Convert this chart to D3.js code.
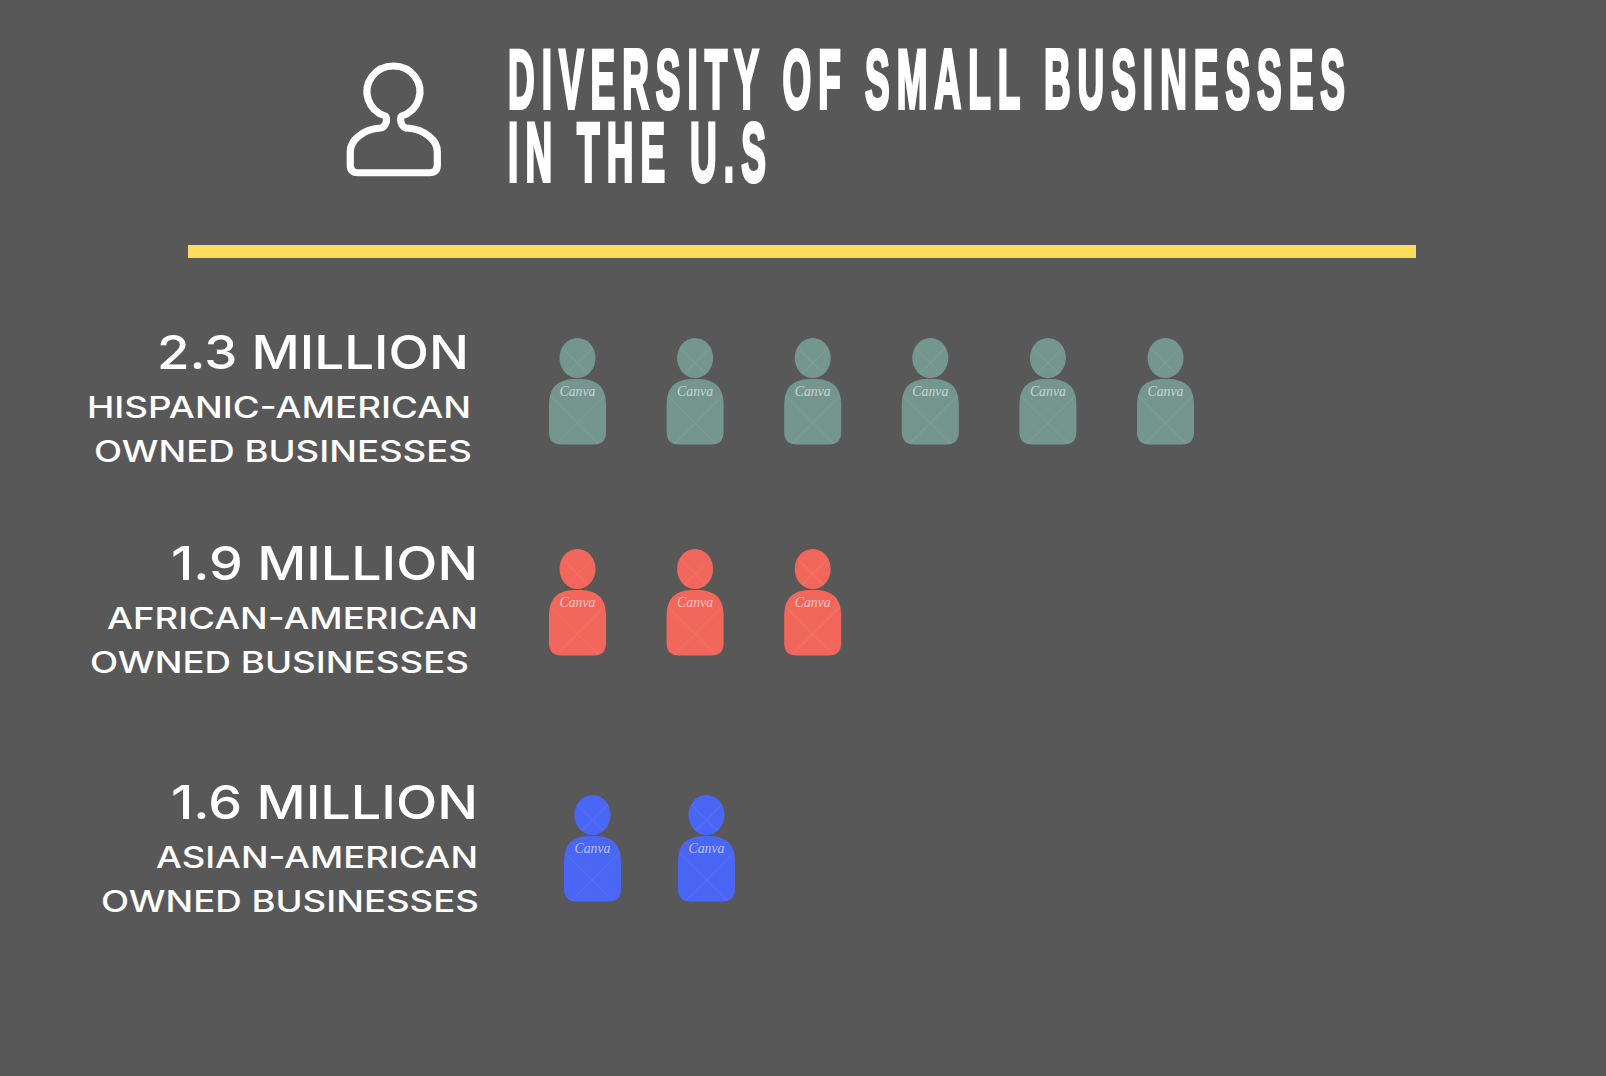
<!DOCTYPE html>
<html>
<head>
<meta charset="utf-8">
<script src="https://cdn.jsdelivr.net/npm/d3@7"></script>
<style>
  html, body { margin: 0; padding: 0; background: #585858; }
  svg { display: block; }
  text { fill: #fff; }
</style>
</head>
<body>
<svg width="1606" height="1076"></svg>
<script>
// chart values
const values = ["2.3 MILLION", "1.9 MILLION", "1.6 MILLION"];
const groups = ["HISPANIC-AMERICAN", "AFRICAN-AMERICAN", "ASIAN-AMERICAN"];
const owned = ["OWNED BUSINESSES", "OWNED BUSINESSES", "OWNED BUSINESSES"];
const iconCounts = [6, 3, 2];
const titleLines = ["DIVERSITY OF SMALL BUSINESSES", "IN THE U.S"];

// layout and style, kept apart from the values
const colors = ["#75968f", "#f2675c", "#4a66f5"];
const rowShift = [0, 211, 457];
const firstIcon = [577.5, 577.5, 592.5];
const iconStep = [117.6, 117.6, 114];
const valueBase = [369, 580, 819];
const groupBase = [418, 629, 868];
const ownedBase = [462, 673, 911.5];
const valueBox = [[157, 469], [171, 478], [171, 478]];
const groupBox = [[87, 471], [107, 478], [156, 478]];
const ownedBox = [[94, 472], [90, 469], [101, 479]];

const svg = d3.select("svg");
svg.append("rect").attr("width", 1606).attr("height", 1076).attr("fill", "#585858");

// faint watermark lattice on each person
const defs = svg.append("defs");
const lattice = defs.append("pattern")
  .attr("id", "lattice")
  .attr("patternUnits", "userSpaceOnUse")
  .attr("x", -30).attr("y", 13)
  .attr("width", 60).attr("height", 60);
lattice.append("path")
  .attr("d", "M0 0L60 60M60 0L0 60")
  .attr("stroke", "#fff").attr("stroke-opacity", 0.06).attr("stroke-width", 1.2);

// title
const titleFont = "'Liberation Sans Narrow', 'Liberation Sans', sans-serif";
const titleX = 508, squeeze = 0.44;
const titleWidths = [837, 258];
titleLines.forEach((t, i) => {
  svg.append("text")
    .attr("transform", `translate(${titleX},${[108, 181][i]}) scale(${squeeze},1)`)
    .attr("font-family", titleFont)
    .attr("font-weight", 700)
    .attr("font-size", 84)
    .attr("stroke", "#fff")
    .attr("stroke-width", 3)
    .attr("stroke-linejoin", "miter")
    .attr("vector-effect", "non-scaling-stroke")
    .attr("textLength", titleWidths[i] / squeeze)
    .attr("lengthAdjust", "spacing")
    .text(t);
});

// outline person next to the title
svg.append("path")
  .attr("transform", "translate(320,30) scale(0.344,0.3333)")
  .attr("d", "M190 258A77 77 0 1 1 237 258C232 262 232 295 258 295C305 300 341 330 341 365V405Q341 428 318 428H110Q88 428 88 405V365C88 330 125 300 170 295C196 295 196 262 190 258Z")
  .attr("fill", "none")
  .attr("stroke", "#fff")
  .attr("stroke-width", 21)
  .attr("stroke-linejoin", "round");

// yellow rule
svg.append("rect")
  .attr("x", 188).attr("y", 245)
  .attr("width", 1228).attr("height", 13)
  .attr("fill", "#ffdb5c");

// labels on the left
const labelFont = "Inter, 'Open Sans', sans-serif";
function label(str, box, y, size, weight) {
  svg.append("text")
    .attr("x", box[0]).attr("y", y)
    .attr("font-family", labelFont)
    .attr("font-size", size)
    .attr("font-weight", weight)
    .attr("textLength", box[1] - box[0])
    .attr("lengthAdjust", "spacingAndGlyphs")
    .text(str);
}

const bodyPath = "M-28.5 100V84Q-28.5 60 -4 59H4Q28.5 60 28.5 84V112Q28.5 124.5 16 124.5H-16Q-28.5 124.5 -28.5 112Z";

values.forEach((v, r) => {
  label(v, valueBox[r], valueBase[r], 47, 500);
  label(groups[r], groupBox[r], groupBase[r], 30, 500);
  label(owned[r], ownedBox[r], ownedBase[r], 30, 500);

  // one scale per row, the spacing differs in the last row
  const x = d3.scaleLinear().domain([0, 1]).range([firstIcon[r], firstIcon[r] + iconStep[r]]);
  const person = svg.append("g")
    .selectAll("g")
    .data(d3.range(iconCounts[r]))
    .join("g")
    .attr("transform", d => `translate(${x(d)},${320 + rowShift[r]})`);

  [colors[r], "url(#lattice)"].forEach(fill => {
    person.append("ellipse")
      .attr("cx", 0).attr("cy", 38).attr("rx", 18).attr("ry", 20)
      .attr("fill", fill);
    person.append("path").attr("d", bodyPath).attr("fill", fill);
  });

  person.append("text")
    .attr("x", -18).attr("y", 76)
    .attr("font-family", "'Liberation Serif', serif")
    .attr("font-style", "italic")
    .attr("font-size", 15)
    .attr("textLength", 36)
    .attr("lengthAdjust", "spacingAndGlyphs")
    .attr("fill-opacity", 0.6)
    .text("Canva");
});
</script>
</body>
</html>
